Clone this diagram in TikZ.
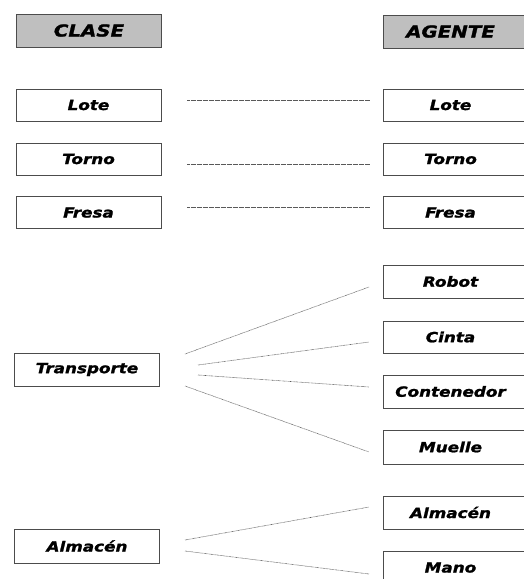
\documentclass[tikz,border=0pt]{standalone}
\usepackage{fontspec}
\newfontfamily\lblfont{DejaVu Sans}[FakeStretch=1.2, BoldItalicFeatures={FakeBold=1.5}]
\begin{document}
\begin{tikzpicture}[x=1pt,y=-1pt,
  box/.style={draw=black!70, line width=1pt, fill=white, rectangle, inner sep=0pt,
    minimum height=32pt, font=\lblfont\bfseries\itshape\fontsize{14}{16}\selectfont},
  lbox/.style={box, minimum width=145pt},
  rbox/.style={box, minimum width=147pt, execute at end node={\hspace*{12pt}}},
  hdr/.style={fill=black!25, minimum height=33pt, font=\lblfont\bfseries\itshape\fontsize{16.5}{18}\selectfont},
  link/.style={draw=black!65, line width=0.6pt, dash pattern=on 0.6pt off 0.6pt}]
\useasboundingbox (0,0) rectangle (524,579);
\clip (0,0) rectangle (524,579);
% left column
\node[lbox,hdr] (clase) at (89,30.5) {CLASE};
\node[lbox] (lotel) at (88.5,105) {Lote};
\node[lbox] (tornol) at (88.5,159) {Torno};
\node[lbox] (fresal) at (88.5,212.5) {Fresa};
\node[lbox, minimum height=33pt] (transp) at (87,369.5) {Transporte};
\node[lbox, minimum height=34pt] (almal) at (87,546) {Almacén};
% right column
\node[rbox,hdr] (agente) at (456.5,31.5) {AGENTE};
\node[rbox] (loter) at (456.5,105) {Lote};
\node[rbox] (tornor) at (456.5,159) {Torno};
\node[rbox] (fresar) at (456.5,212.5) {Fresa};
\node[rbox, minimum height=33pt] (robot) at (456.5,281.5) {Robot};
\node[rbox] (cinta) at (456.5,337) {Cinta};
\node[rbox, minimum height=33pt] (conten) at (456.5,391.5) {Contenedor};
\node[rbox, minimum height=34pt] (muelle) at (456.5,447) {Muelle};
\node[rbox, minimum height=33pt] (almar) at (456.5,512.5) {Almacén};
\node[rbox, minimum height=33pt] (mano) at (456.5,567.5) {Mano};
% connector end points
\coordinate (l1a) at (187,100);   \coordinate (l1b) at (370,100);
\coordinate (l2a) at (187,164.3); \coordinate (l2b) at (370,164.3);
\coordinate (l3a) at (187,207.3); \coordinate (l3b) at (370,207.3);
\coordinate (t1a) at (185,354);   \coordinate (t1b) at (369,287);
\coordinate (t2a) at (198,365);   \coordinate (t2b) at (369,342);
\coordinate (t3a) at (198,375);   \coordinate (t3b) at (369,387);
\coordinate (t4a) at (185,386);   \coordinate (t4b) at (369,452);
\coordinate (a1a) at (185,540);   \coordinate (a1b) at (369,507);
\coordinate (a2a) at (185,551);   \coordinate (a2b) at (369,574);
\draw[link] (l1a) -- (l1b);
\draw[link] (l2a) -- (l2b);
\draw[link] (l3a) -- (l3b);
\draw[link] (t1a) -- (t1b);
\draw[link] (t2a) -- (t2b);
\draw[link] (t3a) -- (t3b);
\draw[link] (t4a) -- (t4b);
\draw[link] (a1a) -- (a1b);
\draw[link] (a2a) -- (a2b);
\end{tikzpicture}
\end{document}
